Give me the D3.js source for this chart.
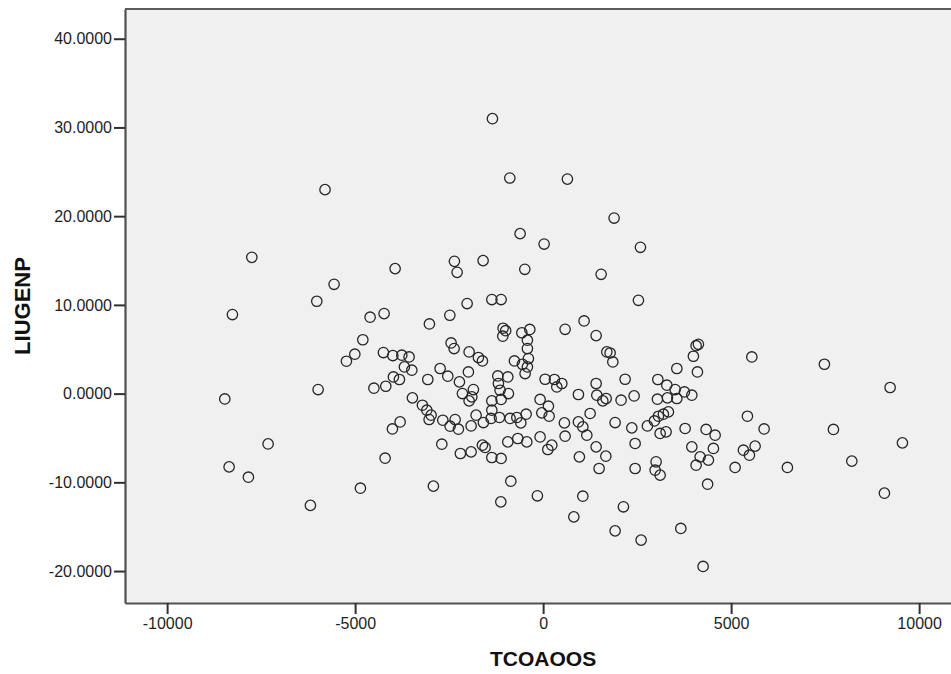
<!DOCTYPE html>
<html>
<head>
<meta charset="utf-8">
<script src="https://cdn.jsdelivr.net/npm/d3@7"></script>
<style>
  html, body { margin: 0; padding: 0; background: #ffffff; }
  svg { display: block; }
</style>
</head>
<body>
<svg id="chart" width="951" height="674"></svg>
<script>
// ---- data ----
const xLabel = "TCOAOOS";
const yLabel = "LIUGENP";
const xTicks = [-10000, -5000, 0, 5000, 10000];
const yTicks = [-20, -10, 0, 10, 20, 30, 40];

const xValues = [
  -5800,-7747,-3936,-5559,-6019,-8263,-4601,-4229,-3024,-4795,
  -1348,-886,646,1888,-612,27,2588,-2359,-1596,-2287,-487,1543,2535,-2021,-1364,-1117,-2481,1090,585,-1064,-997,-566,-354,1410,
  -5008,-5231,-5984,-4500,-8466,-7314,-8351,-7838,-4859,-6189,
  -4247,-3997,-3758,-3564,-3689,-3492,-3981,-3822,-4184,-3067,-2739,-2535,-2447,-2367,-1968,-1721,-1614,-1987,-2226,-2146,
  -1854,-1896,-1968,-3476,-3210,-3093,-2979,-3032,-2668,-2340,-2473,-2253,-1915,-1782,-1588,-1383,-1364,-1364,-1162,-1117,
  -1144,-1189,-1205,-939,-923,-878,-699,-593,-452,-763,-551,-479,-418,-391,-418,-418,-1072,53,301,364,
  497,-80,141,-35,160,566,585,-80,231,125,-434,-673,-939,-1614,-1543,-1915,-2200,-1364,-1117,-2694,-4008,-3803,-4202,
  1694,1782,1854,4130,4069,3997,5551,3556,4104,2181,3051,3290,3511,3758,3955,3556,3306,3040,939,1410,
  1428,1676,1588,2074,2420,1250,939,1056,1162,1915,2359,2447,1410,1668,965,1489,2447,2774,2960,3067,
  3199,3332,3112,3271,3005,2979,3112,3777,4335,4575,3955,4176,4069,4396,4529,5106,5434,5327,5487,5638,5878,4375,
  -2918,-859,-1125,-152,1056,817,2136,1915,2606,3662,4255,
  7481,9229,6497,7721,8210,9556,9077
];
const yValues = [
  22.99,15.36,14.09,12.32,10.41,8.91,8.61,9.02,7.85,6.07,
  30.99,24.30,24.18,19.79,18.03,16.86,16.49,14.91,14.99,13.67,14.01,13.45,10.52,10.15,10.60,10.60,8.83,8.19,7.25,7.37,7.09,6.86,7.23,6.54,
  4.44,3.65,0.46,0.61,-0.60,-5.67,-8.26,-9.42,-10.66,-12.60,
  4.63,4.29,4.33,4.13,3.01,2.64,1.88,1.59,0.83,1.59,2.83,1.96,5.71,5.08,4.70,4.07,3.68,2.44,1.32,0.01,
  0.46,-0.37,-0.82,-0.48,-1.31,-1.87,-2.43,-2.92,-3.00,-2.92,-3.67,-4.01,-3.64,-2.43,-3.26,-2.80,-1.87,-0.82,-2.69,-0.66,
  0.38,1.14,1.99,1.88,0.01,-2.80,-2.69,-3.30,-2.32,3.68,3.31,2.26,3.01,3.95,5.08,6.02,6.47,1.62,1.59,0.75,
  1.14,-0.66,-1.42,-2.17,-2.55,-3.30,-4.80,-4.88,-5.81,-6.30,-5.44,-5.06,-5.44,-5.81,-6.07,-6.57,-6.75,-7.20,-7.31,-5.70,-3.98,-3.19,-7.28,
  4.70,4.58,3.57,5.56,5.40,4.21,4.13,2.83,2.44,1.62,1.59,0.95,0.46,0.19,-0.18,-0.55,-0.48,-0.63,-0.10,1.14,
  -0.18,-0.55,-0.82,-0.74,-0.26,-2.24,-3.19,-3.75,-4.69,-3.26,-3.86,-5.62,-6.00,-7.05,-7.13,-8.44,-8.44,-3.64,-3.08,-2.55,
  -2.32,-2.06,-4.49,-4.31,-7.69,-8.63,-9.19,-3.93,-4.04,-4.69,-6.00,-7.13,-8.07,-7.50,-6.18,-8.32,-2.55,-6.38,-6.94,-5.92,-3.98,-10.21,
  -10.43,-9.87,-12.20,-11.52,-11.56,-13.89,-12.76,-15.47,-16.51,-15.20,-19.48,
  3.31,0.69,-8.32,-4.04,-7.61,-5.55,-11.22
];

// ---- layout ----
const plot = { left: 125, top: 9, right: 968, bottom: 603 };

const x = d3.scaleLinear().domain([-11120, 11300]).range([plot.left, plot.right]);
const y = d3.scaleLinear().domain([-23.6, 43.35]).range([plot.bottom, plot.top]);

const svg = d3.select("#chart");
const fontFamily = "Arial, 'Liberation Sans', Helvetica, sans-serif";
const hyphen = f => v => f(v).replace("\u2212", "-");

// plot background
svg.append("rect")
  .attr("x", plot.left).attr("y", plot.top)
  .attr("width", plot.right - plot.left).attr("height", plot.bottom - plot.top)
  .attr("fill", "#f0f0f0");

// top frame line
svg.append("line")
  .attr("x1", plot.left).attr("x2", plot.right)
  .attr("y1", plot.top).attr("y2", plot.top)
  .attr("stroke", "#5c5c5c").attr("stroke-width", 2);

// points
const data = xValues.map((v, i) => ({ x: v, y: yValues[i] }));
svg.append("g")
  .selectAll("circle")
  .data(data)
  .join("circle")
  .attr("cx", d => x(d.x))
  .attr("cy", d => y(d.y))
  .attr("r", 5.2)
  .attr("fill", "none")
  .attr("stroke", "#262626")
  .attr("stroke-width", 1.3);

// y axis
const yAxis = svg.append("g")
  .attr("transform", `translate(${plot.left},0)`)
  .call(d3.axisLeft(y).tickValues(yTicks).tickFormat(hyphen(d3.format(".4f"))).tickSize(11).tickPadding(2).tickSizeOuter(0));
yAxis.select(".domain").attr("stroke", "#505050").attr("stroke-width", 2.2);
yAxis.selectAll(".tick line").attr("stroke", "#303030").attr("stroke-width", 2);
yAxis.selectAll(".tick text")
  .attr("fill", "#1e1e1e")
  .style("font-family", fontFamily).style("font-size", "16px");

// x axis
const xAxis = svg.append("g")
  .attr("transform", `translate(0,${plot.bottom})`)
  .call(d3.axisBottom(x).tickValues(xTicks).tickFormat(hyphen(d3.format("d"))).tickSize(11).tickPadding(4).tickSizeOuter(0));
xAxis.select(".domain").attr("stroke", "#505050").attr("stroke-width", 2.2);
xAxis.selectAll(".tick line").attr("stroke", "#303030").attr("stroke-width", 2);
xAxis.selectAll(".tick text")
  .attr("fill", "#1e1e1e")
  .style("font-family", fontFamily).style("font-size", "16px");

// axis titles
svg.append("text")
  .attr("x", x(0))
  .attr("y", 666)
  .attr("text-anchor", "middle")
  .style("font-family", fontFamily).style("font-size", "21px").style("font-weight", "bold")
  .attr("fill", "#111")
  .text(xLabel);

svg.append("text")
  .attr("transform", `translate(30,306) rotate(-90)`)
  .attr("text-anchor", "middle")
  .style("font-family", fontFamily).style("font-size", "22px").style("font-weight", "bold")
  .attr("fill", "#111")
  .text(yLabel);
</script>
</body>
</html>
